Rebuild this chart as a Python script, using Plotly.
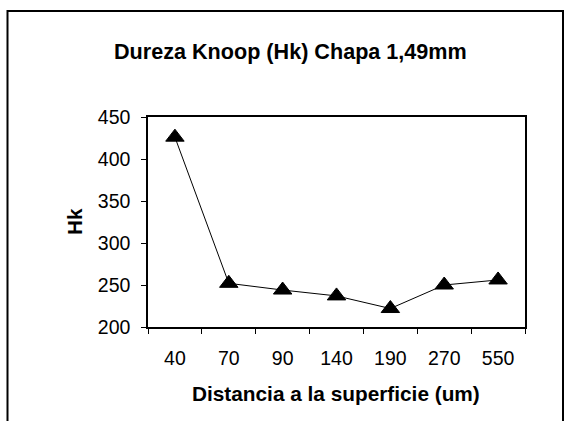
import plotly.graph_objects as go

categories = ["40", "70", "90", "140", "190", "270", "550"]
hk_values = [426, 252, 244, 237, 222, 250, 256]
y_ticks = [200, 250, 300, 350, 400, 450]

title_text = "Dureza Knoop (Hk) Chapa 1,49mm"
x_title = "Distancia a la superficie (um)"
y_title = "Hk"

FONT = "Liberation Sans, Arial, sans-serif"

fig = go.Figure()
fig.add_trace(go.Scatter(
    x=categories, y=hk_values, mode="lines+markers",
    line=dict(color="black", width=1),
    marker=dict(symbol="triangle-up", size=16, color="black",
                line=dict(color="black", width=1)),
    showlegend=False, hoverinfo="skip",
))

W, H = 568, 421
L, R, T, B = 148, 43, 117, 94
pw, ph = W - L - R, H - T - B

def px(x):
    return (x - L) / pw

def py(y):
    return (H - B - y) / ph

fig.update_layout(
    width=W, height=H,
    margin=dict(l=L, r=R, t=T, b=B, autoexpand=False),
    paper_bgcolor="white", plot_bgcolor="white",
    font=dict(family=FONT, color="black"),
    xaxis=dict(type="category", range=[-0.5, 6.5], tickson="boundaries",
               ticks="outside", ticklen=5, tickwidth=1, tickcolor="black",
               showline=True, linecolor="black", linewidth=1.5, mirror=True,
               showgrid=False, zeroline=False, automargin=False,
               tickfont=dict(size=19.5, family=FONT, color="black"),
               ticklabelstandoff=13),
    yaxis=dict(range=[200, 450], tickvals=y_ticks,
               ticks="outside", ticklen=5, tickwidth=1, tickcolor="black",
               showline=True, linecolor="black", linewidth=1.5, mirror=True,
               showgrid=False, zeroline=False, automargin=False,
               tickfont=dict(size=19.5, family=FONT, color="black"),
               ticklabelstandoff=7),
    annotations=[
        dict(text="<b>%s</b>" % title_text, x=px(290), y=py(51.7),
             xref="paper", yref="paper", showarrow=False,
             xanchor="center", yanchor="middle",
             font=dict(size=21.6, family=FONT, color="black")),
        dict(text="<b>%s</b>" % x_title, x=px(336), y=py(393),
             xref="paper", yref="paper", showarrow=False,
             xanchor="center", yanchor="middle",
             font=dict(size=20.8, family=FONT, color="black")),
        dict(text="<b>%s</b>" % y_title, x=px(74), y=py(222),
             xref="paper", yref="paper", showarrow=False, textangle=-90,
             xanchor="center", yanchor="middle",
             font=dict(size=20.8, family=FONT, color="black")),
    ],
    shapes=[
        dict(type="path", xref="paper", yref="paper",
             path="M %f %f L %f %f L %f %f L %f %f" % (
                 px(7.5), py(440), px(7.5), py(11), px(563), py(11), px(563), py(440)),
             line=dict(color="black", width=2)),
    ],
)

fig.write_html("out.html", config={"displayModeBar": False},
               post_script="document.body.style.margin='0';document.body.style.overflow='hidden';")
